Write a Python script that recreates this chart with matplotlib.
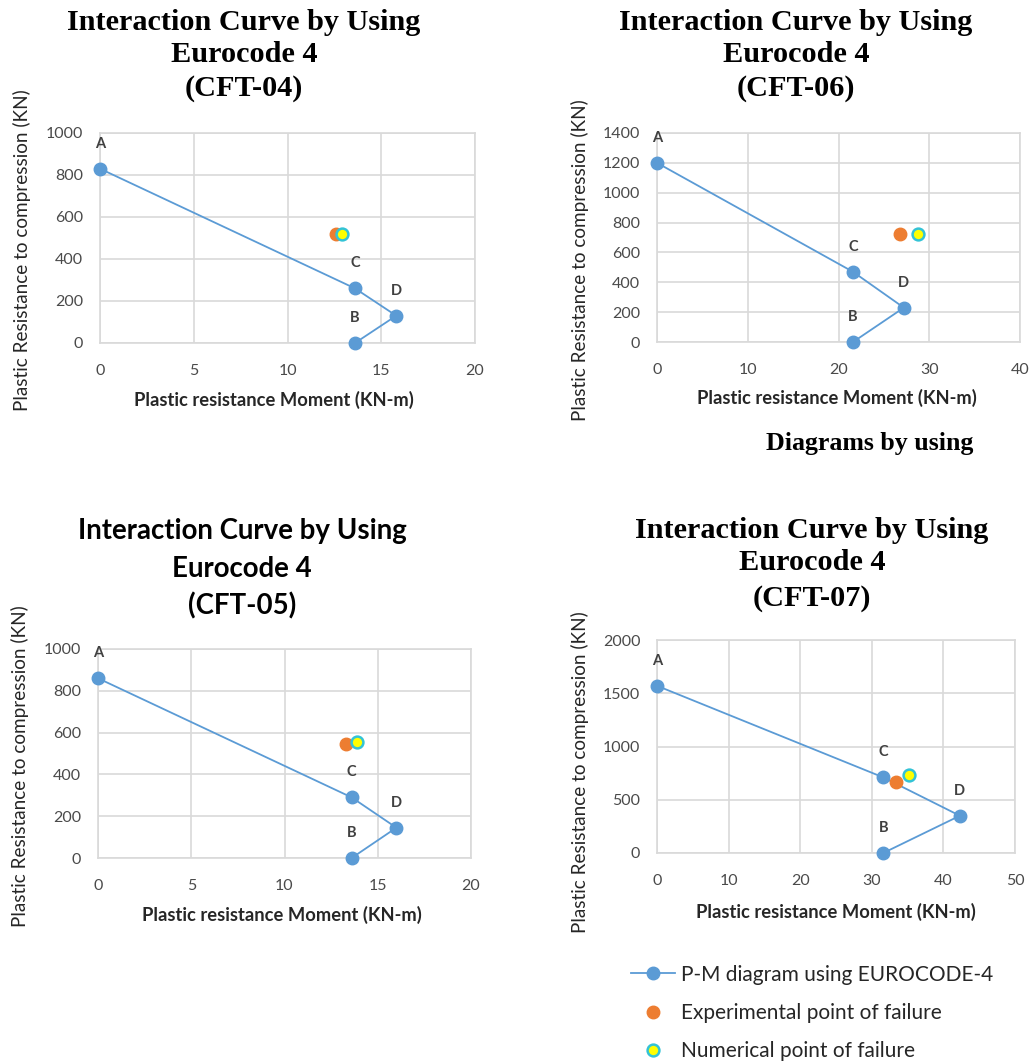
import matplotlib
matplotlib.use("Agg")
import matplotlib.pyplot as plt

# P-M interaction points, order A -> C -> D -> B
pt_names = ['A', 'C', 'D', 'B']

m_cft04 = [0, 13.6, 15.8, 13.6]
p_cft04 = [830, 260, 130, 0]
exp_cft04 = [12.6, 520]
num_cft04 = [12.9, 520]

m_cft06 = [0, 21.6, 27.2, 21.6]
p_cft06 = [1200, 470, 230, 0]
exp_cft06 = [26.8, 725]
num_cft06 = [28.8, 725]

m_cft05 = [0, 13.6, 16.0, 13.6]
p_cft05 = [860, 290, 145, 0]
exp_cft05 = [13.3, 545]
num_cft05 = [13.9, 555]

m_cft07 = [0, 31.6, 42.3, 31.6]
p_cft07 = [1570, 710, 350, 0]
exp_cft07 = [33.4, 670]
num_cft07 = [35.2, 730]

W, H = 1031, 1063
fig = plt.figure(figsize=(W/100, H/100), dpi=100)

BLUE = '#5B9BD5'
ORANGE = '#ED7D31'
GRID = '#D9D9D9'
TICKC = '#4a4a4a'
SANS = 'Lato'
SERIF = 'Liberation Serif'


def px_axes(l, r, t, b):
    return fig.add_axes([l/W, 1-b/H, (r-l)/W, (b-t)/H])


def draw(ax, m, p, exp, num, xlim, xstep, ylim, ystep):
    ax.plot(m, p, '-o', color=BLUE, lw=1.3, ms=9, zorder=3, clip_on=False,
            label='P-M diagram using EUROCODE-4')
    for x, y, s in zip(m, p, pt_names):
        ax.annotate(s, (x, y), xytext=(0, 18), textcoords='offset points',
                    ha='center', va='center', fontsize=10.5, fontweight='bold',
                    family=SANS, color='#404040')
    ax.plot([exp[0]], [exp[1]], 'o', color=ORANGE, ms=9, ls='none', zorder=4,
            label='Experimental point of failure')
    ax.plot([num[0]], [num[1]], 'o', mfc='#FFFF00', mec='#33C3D6', mew=1.8,
            ms=8.5, ls='none', zorder=5, label='Numerical point of failure')
    ax.set_xlim(*xlim)
    ax.set_ylim(*ylim)
    ax.set_xticks(range(xlim[0], xlim[1]+1, xstep))
    ax.set_yticks(range(ylim[0], ylim[1]+1, ystep))
    ax.grid(True, color=GRID, lw=1.2)
    ax.set_axisbelow(True)
    for sp in ax.spines.values():
        sp.set_color(GRID)
        sp.set_linewidth(1.2)
    ax.tick_params(length=0, labelsize=11.5, colors=TICKC, labelfontfamily=SANS)
    ax.tick_params(axis='x', pad=15)
    ax.tick_params(axis='y', pad=12)


def title(lines, cx, ys, fam, size):
    for s, y in zip(lines, ys):
        fig.text(cx/W, 1-y/H, s, ha='center', va='center', family=fam,
                 fontweight='bold', fontsize=size, color='black')


def labels(xcx, xcy, ycx, ycy):
    fig.text(xcx/W, 1-xcy/H, 'Plastic resistance Moment (KN-m)', ha='center',
             va='center', family=SANS, fontweight='bold', fontsize=13.2,
             color='#262626')
    fig.text(ycx/W, 1-ycy/H, 'Plastic Resistance to compression (KN)',
             ha='center', va='center', rotation=90, family=SANS,
             fontsize=13.6, color='#262626')


# CFT-04
ax1 = px_axes(100, 475, 133, 343)
draw(ax1, m_cft04, p_cft04, exp_cft04, num_cft04, (0, 20), 5, (0, 1000), 200)
title(['Interaction Curve by Using', 'Eurocode 4', '(CFT-04)'], 244,
      [22, 55, 88], SERIF, 21.8)
labels(274, 400, 22, 250)

# CFT-06
ax2 = px_axes(657, 1020, 133, 342)
draw(ax2, m_cft06, p_cft06, exp_cft06, num_cft06, (0, 40), 10, (0, 1400), 200)
title(['Interaction Curve by Using', 'Eurocode 4', '(CFT-06)'], 796,
      [22, 55, 88], SERIF, 21.8)
labels(837, 398, 580, 260)
fig.text(870/W, 1-443/H, 'Diagrams by using', ha='center', va='center',
         family=SERIF, fontweight='bold', fontsize=18.6)

# CFT-05
ax3 = px_axes(98, 471, 649, 858)
draw(ax3, m_cft05, p_cft05, exp_cft05, num_cft05, (0, 20), 5, (0, 1000), 200)
title(['Interaction Curve by Using', 'Eurocode 4', '(CFT-05)'], 242,
      [531, 569, 606], SANS, 19.9)
labels(282, 915, 20, 766)

# CFT-07
ax4 = px_axes(657, 1015, 640, 853)
draw(ax4, m_cft07, p_cft07, exp_cft07, num_cft07, (0, 50), 10, (0, 2000), 500)
title(['Interaction Curve by Using', 'Eurocode 4', '(CFT-07)'], 812,
      [530, 563, 598], SERIF, 21.8)
labels(836, 912, 580, 772)

h, l = ax4.get_legend_handles_labels()
leg = fig.legend(h, l, loc='upper left', bbox_to_anchor=(612/W, 1-946/H),
                 frameon=False, handlelength=2.1, handletextpad=0.3,
                 labelspacing=0.88, prop={'family': SANS, 'size': 15})
for t in leg.get_texts():
    t.set_color('#262626')

fig.savefig('out.png', dpi=100)
